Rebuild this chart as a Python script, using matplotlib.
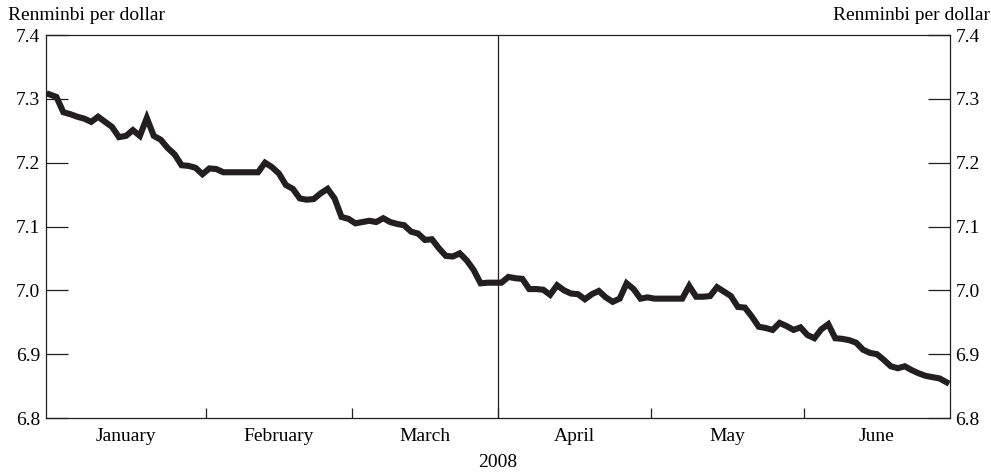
import matplotlib.pyplot as plt
import numpy as np

# renminbi per dollar, one value per business day, Jan-Jun 2008
jan = [7.307, 7.303, 7.279, 7.276, 7.272, 7.269, 7.264, 7.272, 7.264, 7.256, 7.240, 7.242,
       7.251, 7.242, 7.270, 7.242, 7.236, 7.223, 7.213, 7.196, 7.195, 7.192, 7.182]
feb = [7.191, 7.190, 7.185, 7.185, 7.185, 7.185, 7.185, 7.185, 7.200, 7.193, 7.183, 7.165,
       7.159, 7.144, 7.142, 7.143, 7.152, 7.159, 7.144, 7.115, 7.112]
mar = [7.105, 7.107, 7.109, 7.107, 7.113, 7.107, 7.104, 7.102, 7.092, 7.089, 7.079, 7.080,
       7.066, 7.054, 7.053, 7.058, 7.047, 7.032, 7.011, 7.012, 7.012]
apr = [7.012, 7.021, 7.019, 7.018, 7.002, 7.002, 7.001, 6.993, 7.008, 7.000, 6.995, 6.994,
       6.986, 6.994, 6.999, 6.989, 6.982, 6.987, 7.011, 7.002, 6.987, 6.989]
may = [6.987, 6.987, 6.987, 6.987, 6.987, 7.007, 6.990, 6.990, 6.991, 7.005, 6.998, 6.991,
       6.974, 6.973, 6.959, 6.943, 6.941, 6.938, 6.949, 6.944, 6.938, 6.942]
jun = [6.930, 6.925, 6.939, 6.947, 6.925, 6.924, 6.922, 6.918, 6.907, 6.902, 6.900, 6.891,
       6.881, 6.878, 6.881, 6.875, 6.870, 6.866, 6.864, 6.862, 6.856]

months = ['January', 'February', 'March', 'April', 'May', 'June']
month_data = [jan, feb, mar, apr, may, jun]
yticks = [6.8, 6.9, 7.0, 7.1, 7.2, 7.3, 7.4]

rate = np.concatenate(month_data)
days = np.arange(len(rate))
lengths = np.array([len(m) for m in month_data])
bounds = np.cumsum(lengths) - 0.5
starts = np.concatenate([[-0.5], bounds[:-1]])
centers = (starts + bounds) / 2

plt.rcParams['font.family'] = 'Liberation Serif'
plt.rcParams['font.size'] = 14

fig = plt.figure(figsize=(9.91, 4.72), dpi=100)
ax = fig.add_axes([0.0464, 0.1144, 0.9122, 0.8114])

ax.plot(days, rate, color='#231f20', lw=4.4, solid_joinstyle='miter')
ax.axvline(bounds[2], color='#231f20', lw=0.9)

ax.set_xlim(-0.5, len(rate) - 0.5)
ax.set_ylim(6.8, 7.4)
ax.set_yticks(yticks)
ax.set_yticklabels(['%.1f' % t for t in yticks])
ax.yaxis.set_ticks_position('both')
ax.tick_params(axis='y', direction='in', length=16, width=0.9, color='#231f20',
               labelleft=True, labelright=True, pad=4)

ax.set_xticks(bounds[:-1])
ax.set_xticklabels([])
ax.set_xticks(centers, minor=True)
ax.set_xticklabels(months, minor=True)
ax.tick_params(axis='x', which='major', direction='in', length=7, width=0.9, color='#231f20')
ax.tick_params(axis='x', which='minor', length=0, pad=7)

for s in ax.spines.values():
    s.set_linewidth(0.9)
    s.set_color('#231f20')

fig.text(0.008, 0.968, 'Renminbi per dollar', ha='left', va='center')
fig.text(0.999, 0.968, 'Renminbi per dollar', ha='right', va='center')
fig.text(0.5025, 0.021, '2008', ha='center', va='center')

fig.savefig('out.png', dpi=100)
